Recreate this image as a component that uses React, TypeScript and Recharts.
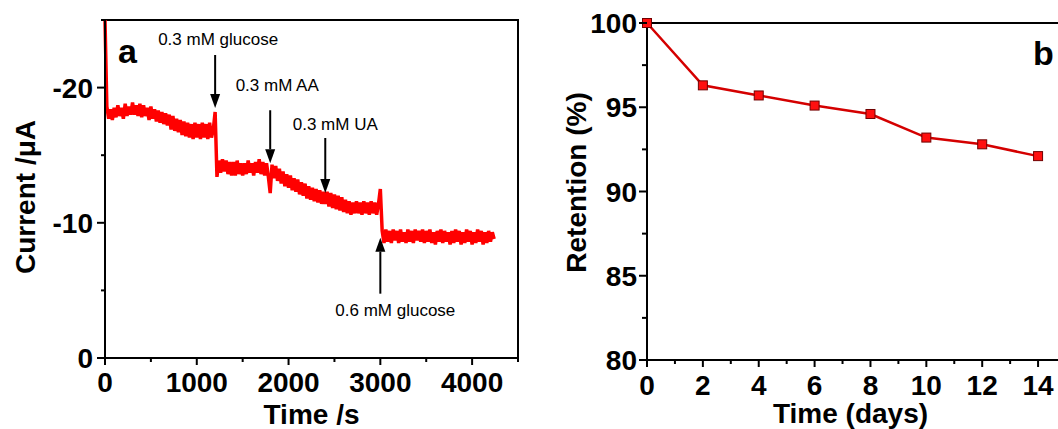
import React from 'react';
import { ComposedChart, Line, Scatter, XAxis, YAxis, ReferenceArea, Customized } from 'recharts';

const FONT = '"Liberation Sans", Arial, Helvetica, sans-serif';

// amperometric trace, one reading every 20 s, split at each addition
const SAMPLE_STEP = 20;
const segmentStarts = [0, 1200, 1800, 2400, 3000];

// 0 - 1180 s
const traceStart = [
  -25.0,
  -18.6, -17.7, -18.4, -17.6, -18.5, -17.8, -18.7, -17.9, -18.5, -17.7,
  -18.8, -17.9, -18.6, -18.0, -18.9, -18.0, -18.7, -17.9, -18.8, -17.8,
  -18.7, -17.9, -18.5, -17.6, -18.6, -17.7, -18.4, -17.5, -18.3, -17.4,
  -18.2, -17.3, -18.1, -17.2, -18.0, -16.9, -17.9, -16.8, -17.7, -16.7,
  -17.6, -16.5, -17.5, -16.4, -17.4, -16.3, -17.3, -16.2, -17.4, -16.3,
  -17.3, -16.2, -17.4, -16.3, -17.3, -16.2, -17.4, -16.3, -16.9,
];
// 1200 - 1780 s (0.3 mM glucose)
const traceGlucose = [
  -18.2, -13.4, -14.6, -13.7, -14.7, -13.8, -14.6, -13.6, -14.5, -13.5,
  -14.5, -13.5, -14.6, -13.6, -14.4, -13.5, -14.4, -13.6, -14.6, -13.7,
  -14.4, -13.5, -14.5, -13.7, -14.7, -13.6, -14.5, -13.5, -14.4, -13.4,
];
// 1800 - 2380 s (0.3 mM AA)
const traceAA = [
  -12.2, -14.3, -13.3, -14.2, -13.1, -14.0, -12.9, -13.8, -12.7, -13.6,
  -12.6, -13.5, -12.4, -13.3, -12.3, -13.2, -12.1, -13.0, -12.0, -12.9,
  -11.8, -12.7, -11.7, -12.6, -11.6, -12.5, -11.5, -12.4, -11.4, -12.3,
];
// 2400 - 2980 s (0.3 mM UA)
const traceUA = [
  -11.4, -12.3, -11.2, -12.2, -11.1, -12.1, -11.0, -12.0, -10.9, -11.9,
  -10.8, -11.7, -10.7, -11.6, -10.6, -11.5, -10.7, -11.6, -10.7, -11.5,
  -10.6, -11.6, -10.7, -11.5, -10.6, -11.6, -10.7, -11.5, -10.6, -11.4,
];
// 3000 - 4240 s (0.6 mM glucose)
const traceGlucose2 = [
  -12.5, -9.4, -8.5, -9.5, -8.6, -9.4, -8.5, -9.5, -8.7, -9.4,
  -8.5, -9.5, -8.6, -9.3, -8.5, -9.5, -8.6, -9.4, -8.5, -9.5,
  -8.7, -9.4, -8.6, -9.5, -8.5, -9.4, -8.6, -9.5, -8.5, -9.3,
  -8.4, -9.4, -8.6, -9.5, -8.5, -9.4, -8.6, -9.3, -8.4, -9.4,
  -8.5, -9.5, -8.6, -9.4, -8.4, -9.3, -8.5, -9.5, -8.6, -9.4,
  -8.4, -9.3, -8.5, -9.5, -8.6, -9.4, -8.4, -9.3, -8.5, -9.4,
  -8.6, -9.3, -8.8,
];

const additionTimes = [1200, 1800, 2400, 3000];
const arrowTips = [-18.5, -14.4, -12.2, -8.9];
const additionLabels = ['0.3 mM glucose', '0.3 mM AA', '0.3 mM UA', '0.6 mM glucose'];

// stability test
const days = [0, 2, 4, 6, 8, 10, 12, 14];
const retention = [100, 96.3, 95.7, 95.1, 94.6, 93.2, 92.8, 92.1];

const timeTicks = [0, 500, 1000, 1500, 2000, 2500, 3000, 3500, 4000, 4500];
const timeLabels = [0, 1000, 2000, 3000, 4000];
const currentTicks = [0, -5, -10, -15, -20, -25];
const currentLabels = [0, -10, -20];
const dayTicks = [0, 1, 2, 3, 4, 5, 6, 7, 8, 9, 10, 11, 12, 13, 14, 15];
const dayLabels = [0, 2, 4, 6, 8, 10, 12, 14];
const retentionTicks = [80, 82.5, 85, 87.5, 90, 92.5, 95, 97.5, 100];
const retentionLabels = [80, 85, 90, 95, 100];

const traceData = [traceStart, traceGlucose, traceAA, traceUA, traceGlucose2].flatMap((seg, s) =>
  seg.map((y, i) => ({ x: segmentStarts[s] + i * SAMPLE_STEP, y }))
);
const arrowData = additionTimes.map((x, i) => ({ x, y: arrowTips[i], label: additionLabels[i] }));
const retentionData = days.map((x, i) => ({ x, y: retention[i] }));

// shaft length / text placement per arrow (px)
const arrowLayout = [
  { dir: -1, len: 53, gap: 10, dx: 3 },
  { dir: -1, len: 53, gap: 19, dx: 7 },
  { dir: -1, len: 55, gap: 8, dx: 10 },
  { dir: 1, len: 56, gap: 22, dx: 15 },
];

const axisLine = { stroke: '#000', strokeWidth: 2 };
const titleStyle = { fontSize: 28, fontWeight: 700, fill: '#000', fontFamily: FONT };

function AxisTick(props: any) {
  const { x, y, payload, side, labels, major, minor, gap } = props;
  const v = payload.value;
  const isMajor = labels.includes(v);
  const len = isMajor ? major : minor;
  const textProps = { fontSize: 28, fontWeight: 700, fill: '#000', fontFamily: FONT };
  if (side === 'left') {
    return (
      <g>
        <line x1={x} x2={x - len} y1={y} y2={y} stroke="#000" strokeWidth={2} />
        {isMajor && (
          <text x={x - major - gap} y={y} dy="0.36em" textAnchor="end" {...textProps}>
            {v}
          </text>
        )}
      </g>
    );
  }
  return (
    <g>
      <line x1={x} x2={x} y1={y} y2={y + len} stroke="#000" strokeWidth={2} />
      {isMajor && (
        <text x={x} y={y + major + gap} dy="0.72em" textAnchor="middle" {...textProps}>
          {v}
        </text>
      )}
    </g>
  );
}

function AdditionArrow(props: any) {
  const { cx, cy, payload } = props;
  if (cx == null || cy == null) return null;
  const s = arrowLayout[additionLabels.indexOf(payload.label)];
  const head = 14;
  const end = cy + s.dir * s.len;
  const textY = s.dir < 0 ? end - s.gap : end + s.gap;
  return (
    <g>
      <line x1={cx} x2={cx} y1={end} y2={cy + s.dir * head} stroke="#000" strokeWidth={2} />
      <polygon points={`${cx - 5},${cy + s.dir * head} ${cx + 5},${cy + s.dir * head} ${cx},${cy}`} fill="#000" />
      <text x={cx + s.dx} y={textY} textAnchor="middle" fontSize={17} fill="#000" fontFamily={FONT}>
        {payload.label}
      </text>
    </g>
  );
}

function SquareDot(props: any) {
  const { cx, cy } = props;
  if (cx == null || cy == null) return null;
  return <rect x={cx - 4.5} y={cy - 4.5} width={9} height={9} fill="#ff1010" stroke="#700000" strokeWidth={1} />;
}

export default function App() {
  return (
    <div
      style={{
        position: 'fixed',
        left: 0,
        top: 0,
        width: 1058,
        height: 429,
        background: '#fff',
        overflow: 'hidden',
        fontFamily: FONT,
      }}
    >
      <div style={{ position: 'absolute', left: 0, top: 0 }}>
        <ComposedChart width={530} height={429} margin={{ top: 20, right: 12, bottom: 0, left: 0 }}>
          <XAxis
            dataKey="x"
            type="number"
            domain={[0, 4500]}
            ticks={timeTicks}
            interval={0}
            height={71}
            tickSize={0}
            tickMargin={0}
            tickLine={false}
            axisLine={axisLine}
            tick={<AxisTick side="bottom" labels={timeLabels} major={7} minor={4} gap={7} />}
            label={{ value: 'Time /s', position: 'insideBottom', offset: 5, style: titleStyle }}
          />
          <YAxis
            dataKey="y"
            type="number"
            domain={[-25, 0]}
            reversed
            allowDataOverflow
            ticks={currentTicks}
            interval={0}
            width={105}
            tickSize={0}
            tickMargin={0}
            tickLine={false}
            axisLine={axisLine}
            tick={<AxisTick side="left" labels={currentLabels} major={8} minor={4} gap={4} />}
            label={{
              value: 'Current /μA',
              angle: -90,
              position: 'insideLeft',
              offset: 25,
              dy: 8,
              style: { ...titleStyle, textAnchor: 'middle' },
            }}
          />
          <ReferenceArea x1={0} x2={4500} y1={-25} y2={0} fill="none" stroke="#000" strokeWidth={2} />
          <Line
            data={traceData}
            dataKey="y"
            type="linear"
            stroke="#ff0000"
            strokeWidth={3.5}
            dot={false}
            isAnimationActive={false}
          />
          <Scatter data={arrowData} shape={(p: any) => <AdditionArrow {...p} />} isAnimationActive={false} />
          <Customized
            component={() => (
              <text x={118} y={63} fontSize={34} fontWeight={700} fill="#000" fontFamily={FONT}>
                a
              </text>
            )}
          />
        </ComposedChart>
      </div>
      <div style={{ position: 'absolute', left: 540, top: 0 }}>
        <ComposedChart width={540} height={429} margin={{ top: 23, right: 14, bottom: 0, left: 0 }}>
          <XAxis
            dataKey="x"
            type="number"
            domain={[0, 15]}
            ticks={dayTicks}
            interval={0}
            height={69}
            tickSize={0}
            tickMargin={0}
            tickLine={false}
            axisLine={axisLine}
            tick={<AxisTick side="bottom" labels={dayLabels} major={7} minor={4} gap={8} />}
            label={{ value: 'Time (days)', position: 'insideBottom', offset: 6, dx: -6, style: titleStyle }}
          />
          <YAxis
            dataKey="y"
            type="number"
            domain={[80, 100]}
            ticks={retentionTicks}
            interval={0}
            width={107}
            tickSize={0}
            tickMargin={0}
            tickLine={false}
            axisLine={axisLine}
            tick={<AxisTick side="left" labels={retentionLabels} major={8} minor={5} gap={2} />}
            label={{
              value: 'Retention (%)',
              angle: -90,
              position: 'insideLeft',
              offset: 36,
              dy: -9,
              style: { ...titleStyle, textAnchor: 'middle' },
            }}
          />
          <ReferenceArea x1={0} x2={15} y1={80} y2={100} fill="none" stroke="#000" strokeWidth={2} />
          <Line
            data={retentionData}
            dataKey="y"
            type="linear"
            stroke="#d40000"
            strokeWidth={2.5}
            dot={(p: any) => <SquareDot key={p.index} {...p} />}
            isAnimationActive={false}
          />
          <Customized
            component={() => (
              <text x={493} y={65} fontSize={34} fontWeight={700} fill="#000" fontFamily={FONT}>
                b
              </text>
            )}
          />
        </ComposedChart>
      </div>
    </div>
  );
}
